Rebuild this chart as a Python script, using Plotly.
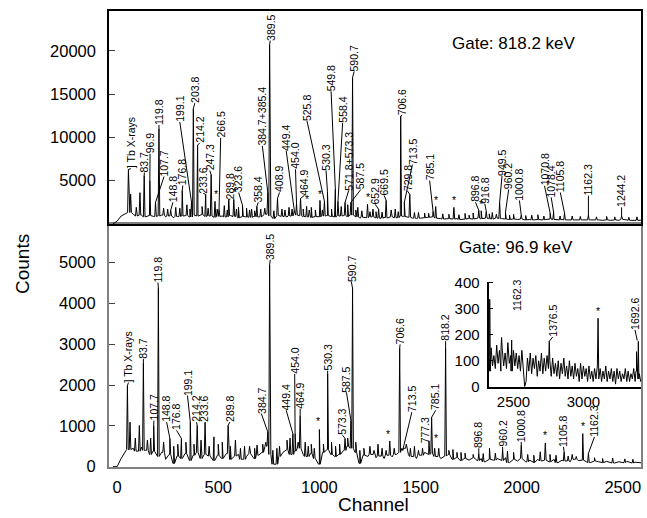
import plotly.graph_objects as go

# ---------------- data ----------------
STEP = 20
BG_START = -20

# top panel (gate 818.2 keV): background counts every 20 channels from ch -20
top_bg = [0, 300, 900, 1200, 1300, 1100, 900, 1000, 800, 950, 850,
          900, 1000, 800, 900, 700, 850, 900, 950, 800, 1000,
          900, 1050, 850, 900, 750, 850, 900, 800, 950, 850,
          700, 850, 800, 750, 850, 800, 900, 1100, 900, 600,
          950, 850, 800, 900, 1000, 950, 850, 800, 750, 850,
          800, 900, 950, 850, 800, 900, 950, 850, 1000, 800,
          650, 750, 700, 800, 700, 650, 750, 700, 800, 700,
          900, 850, 750, 650, 600, 650, 700, 750, 800, 650,
          600, 550, 600, 550, 600, 500, 550, 600, 550, 650,
          600, 650, 600, 550, 650, 600, 550, 500, 550, 500,
          550, 450, 500, 450, 500, 450, 500, 550, 500, 450,
          500, 450, 500, 450, 400, 450, 500, 450, 400, 450,
          400, 450, 400, 450, 400, 500, 450, 400, 450, 400,
          450]
top_peak_ch = [56, 67, 113, 134, 162, 190, 207, 230, 265, 290, 322, 345, 368, 377, 398, 420,
               438, 465, 484, 504, 530, 552, 577, 600, 620, 640, 665, 691, 710, 730, 745, 754,
               793, 815, 850, 876, 887, 907, 937, 960, 980, 1003, 1025, 1040, 1079, 1092, 1108,
               1127, 1140, 1156, 1164, 1190, 1238, 1265, 1293, 1330, 1355, 1375, 1402, 1420, 1447,
               1490, 1520, 1562, 1575, 1610, 1665, 1720, 1760, 1788, 1800, 1825, 1855, 1891, 1920,
               1960, 1998, 2050, 2080, 2141, 2158, 2212, 2250, 2330, 2420, 2494, 2570]
top_peak_h = [6260, 3430, 3600, 5570, 5000, 2480, 11000, 1800, 1560, 1900, 3850, 2200, 2480, 13300, 9100, 2000,
              3400, 5690, 2600, 1680, 2100, 2820, 2820, 1900, 2130, 1800, 1700, 2020, 1700, 1800, 3630, 20700,
              2940, 1700, 1900, 1560, 2360, 2940, 2020, 1900, 1600, 2700, 2600, 3700, 4000, 2600, 2000,
              2480, 2200, 2480, 16900, 1900, 2250, 1700, 1680, 2710, 1600, 1700, 12450, 2480, 3400,
              1300, 1250, 1450, 2000, 1150, 1900, 1200, 1250, 1560, 1500, 1450, 1300, 2480, 1330,
              1100, 1000, 1000, 1050, 1220, 1330, 1220, 900, 1000, 850, 900, 800]
# small unlabelled spikes in the top spectrum
top_small_ch = [95, 250, 310, 360, 450, 495, 545, 590, 655, 680, 775, 830, 865, 920, 950, 1015,
                1060, 1180, 1210, 1250, 1280, 1310, 1390, 1470, 1540, 1640, 1690, 1740, 1840,
                1875, 1940, 2020, 2110, 2190, 2290, 2370, 2460, 2530]
top_small_h = [1900, 1700, 1800, 1700, 1800, 1700, 1600, 1700, 1600, 1500, 1500, 1600, 1700, 1700,
               1600, 1600, 1700, 1600, 1500, 1400, 1400, 1350, 1400, 1300, 1200, 1100, 1050, 1000,
               1150, 1100, 1000, 950, 900, 900, 850, 800, 800, 750]
# labels: (text, label channel, label bottom counts, peak channel, peak counts)
top_labels = [
    ("] Tb X-rays", 69, 6380, 56, 6260), ("83.7", 135, 5920, 134, 5570),
    ("96.9", 163, 8100, 162, 5000), ("107.7", 232, 5460, 190, 2480),
    ("119.8", 207, 11420, 207, 11000), ("148.8", 276, 2480, 265, 1560),
    ("176.8", 325, 4430, 322, 3850), ("199.1", 310, 11770, 368, 2480),
    ("203.8", 384, 13950, 377, 13300), ("214.2", 409, 9360, 398, 9100),
    ("233.6", 426, 3510, 438, 3400), ("247.3", 458, 6150, 465, 5690),
    ("*", 488, 2750, None, None), ("266.5", 512, 9930, 504, 1680),
    ("289.8", 560, 2860, 552, 2820), ("*", 585, 2950, None, None),
    ("323.6", 601, 3620, 620, 2130), ("358.4", 698, 2480, 691, 2020),
    ("384.7+385.4", 718, 9020, 745, 3630), ("389.5", 757, 21170, 754, 20700),
    ("408.9", 803, 3620, 793, 2940), ("449.4", 836, 8440, 876, 1560),
    ("454.0", 882, 6300, 887, 2360), ("464.9", 926, 3280, 907, 2940),
    ("*", 941, 2150, None, None), ("525.8", 939, 11880, 1025, 2600),
    ("*", 1003, 2800, None, None), ("530.3", 1033, 6150, 1040, 3700),
    ("549.8", 1058, 15320, 1079, 4000), ("558.4", 1115, 11650, 1092, 2600),
    ("571.8+573.3", 1145, 3850, 1127, 2480), ("590.7", 1172, 17620, 1164, 16900),
    ("587.5", 1205, 3970, 1156, 2480), ("*", 1238, 2350, None, None),
    ("652.9", 1276, 2250, 1293, 1680), ("669.5", 1320, 3280, 1330, 2710),
    ("706.6", 1410, 12570, 1402, 12450), ("713.5", 1460, 6840, 1420, 2480),
    ("729.8", 1435, 3820, 1447, 3400), ("785.1", 1545, 5000, 1562, 1450),
    ("*", 1578, 2050, None, None), ("*", 1665, 2000, None, None),
    ("896.8", 1772, 2480, 1788, 1560), ("*", 1800, 1550, None, None),
    ("916.8", 1818, 2300, 1825, 1450), ("949.5", 1903, 5540, 1891, 2480),
    ("960.2", 1936, 3970, 1920, 1330), ("1000.8", 1989, 2700, 1998, 1000),
    ("1070.8", 2113, 4390, 2141, 1220), ("1078.4", 2146, 3050, 2158, 1330),
    ("1105.8", 2191, 3620, 2212, 1220), ("1162.3", 2330, 3250, 2330, 1000),
    ("1244.2", 2494, 1900, 2494, 900),
]

# bottom panel (gate 96.9 keV)
bot_bg = [0, 0, 200, 380, 420, 450, 380, 480, 400, 300, 380,
          250, 350, 180, 300, 80, 260, 200, 320, 150, 280,
          350, 200, 300, 260, 150, 280, 200, 320, 180, 260,
          300, 180, 250, 320, 200, 280, 350, 500, 300, 60,
          250, 350, 420, 300, 380, 450, 300, 250, 320, 200,
          60, 350, 420, 300, 250, 300, 400, 500, 450, 350,
          80, 280, 250, 300, 220, 260, 200, 280, 240, 300,
          350, 450, 300, 250, 200, 280, 350, 300, 320, 250,
          200, 260, 300, 180, 220, 150, 200, 160, 220, 150,
          200, 120, 180, 160, 200, 150, 220, 100, 180, 140,
          200, 120, 160, 100, 180, 140, 160, 120, 180, 100,
          160, 140, 120, 180, 150, 160, 120, 100, 140, 120,
          100, 130, 110, 90, 120, 100, 130, 90, 110, 100,
          90]
bot_peak_ch = [51, 64, 110, 130, 166, 181, 204, 261, 318, 362, 396, 435, 479, 549, 585, 655, 692,
               745, 754, 803, 869, 880, 905, 930, 960, 1000, 1041, 1127, 1156, 1164, 1180, 1250,
               1290, 1348, 1397, 1412, 1470, 1542, 1555, 1570, 1624, 1660, 1700, 1788, 1841, 1906,
               1930, 1998, 2092, 2117, 2210, 2250, 2302, 2330]
bot_peak_h = [1980, 1090, 1010, 2550, 700, 1010, 4370, 690, 690, 1090, 1010, 1090, 730, 1010, 650, 500, 530,
              850, 4940, 500, 810, 810, 1250, 600, 550, 910, 2270, 690, 1130, 4370, 600, 500,
              550, 630, 2900, 400, 500, 630, 1210, 450, 2900, 420, 350, 325, 450, 405,
              380, 525, 365, 580, 365, 300, 810, 325]
bot_small_ch = [90, 150, 230, 280, 300, 340, 380, 415, 455, 500, 520, 560, 610, 630, 680, 720, 735,
                770, 790, 840, 855, 895, 945, 975, 1020, 1060, 1080, 1100, 1140, 1200, 1220, 1270,
                1310, 1330, 1370, 1430, 1450, 1490, 1510, 1590, 1640, 1680, 1720, 1760, 1810, 1870,
                1960, 2030, 2060, 2140, 2170, 2230, 2270, 2360, 2400, 2450, 2510, 2550]
bot_small_h = [700, 650, 600, 500, 550, 600, 550, 650, 500, 550, 600, 500, 450, 500, 450, 550, 600,
               400, 450, 650, 700, 600, 500, 450, 550, 600, 500, 550, 700, 400, 450, 400,
               450, 400, 450, 550, 450, 400, 450, 450, 400, 350, 330, 300, 320, 330,
               350, 300, 280, 300, 280, 260, 250, 220, 200, 210, 190, 180]
bot_labels = [
    ("] Tb X-rays", 56, 2060, 51, 1980), ("83.7", 130, 2640, 130, 2550),
    ("107.7", 182, 1130, 181, 1010), ("119.8", 202, 4510, 204, 4370),
    ("148.8", 245, 1090, 261, 690), ("176.8", 294, 890, 318, 690),
    ("199.1", 348, 1740, 362, 1090), ("214.2", 393, 1090, 396, 1010),
    ("233.6", 429, 1090, 435, 1090), ("289.8", 557, 1090, 549, 1010),
    ("384.7", 713, 1300, 745, 850), ("389.5", 757, 5065, 754, 4940),
    ("449.4", 836, 1380, 869, 810), ("454.0", 878, 2270, 880, 810),
    ("464.9", 905, 1420, 905, 1250), ("*", 995, 960, None, None),
    ("530.3", 1041, 2350, 1041, 2270), ("573.3", 1115, 770, 1127, 690),
    ("587.5", 1134, 1820, 1156, 1130), ("590.7", 1158, 4530, 1164, 4370),
    ("*", 1341, 660, None, None), ("706.6", 1399, 2995, 1397, 2900),
    ("713.5", 1457, 1335, 1412, 400), ("777.3", 1522, 570, None, None),
    ("785.1", 1575, 1380, 1555, 1210), ("*", 1575, 560, None, None),
    ("818.2", 1624, 3075, 1624, 2900), ("896.8", 1788, 450, 1788, 325),
    ("960.2", 1906, 485, 1906, 405), ("1000.8", 1998, 605, 1998, 525),
    ("*", 2113, 620, None, None), ("1105.8", 2207, 485, 2210, 365),
    ("*", 2302, 840, None, None), ("1162.3", 2360, 730, 2330, 325),
]

# inset (bottom panel, high channels): background every 10 channels from ch 2320
INSET_STEP = 10
INSET_START = 2320
inset_bg = [130, 60, 150, 80, 120, 70, 160, 90, 140, 60,
            150, 80, 130, 70, 170, 90, 120, 60, 140, 80,
            130, 70, 120, 60, 140, 80, 0, 20, 110, 60,
            130, 50, 110, 70, 120, 40, 100, 60, 130, 50,
            110, 60, 120, 70, 100, 40, 110, 50, 90, 40,
            100, 30, 90, 50, 110, 40, 80, 30, 100, 40,
            80, 30, 90, 40, 70, 20, 90, 30, 80, 40,
            70, 20, 80, 30, 60, 20, 70, 30, 80, 30,
            70, 20, 60, 30, 80, 20, 60, 30, 70, 20,
            60, 10, 70, 30, 60, 20, 50, 30, 70, 20,
            60, 20, 50, 30, 70, 20, 60, 30, 50, 20, 40]
inset_peak_ch = [2330, 2415, 2487, 2756, 3105, 3380, 3393]
inset_peak_h = [337, 190, 180, 175, 264, 135, 175]
inset_labels = [
    ("1162.3", 2524, 293, 2335, 337), ("1376.5", 2781, 192, 2756, 175),
    ("*", 3105, 268, None, None), ("1692.6", 3369, 219, 3385, 178),
]
inset_leader_from = [(2455, 362), None, None, None]

x_ticks = [0, 500, 1000, 1500, 2000, 2500]
top_y_ticks = [5000, 10000, 15000, 20000]
bot_y_ticks = [0, 1000, 2000, 3000, 4000, 5000]
inset_x_ticks = [2500, 3000]
inset_y_ticks = [0, 100, 200, 300, 400]

# ---------------- helpers ----------------
FONT = "Liberation Sans, Arial, Helvetica, sans-serif"


def spectrum(start, step, bg, pk_ch, pk_h, hw=4):
    pts = [(start + i * step, v) for i, v in enumerate(bg)]
    for c, h in zip(pk_ch, pk_h):
        i = min(max(int(round((c - start) / step)), 0), len(bg) - 1)
        base = bg[i]
        pts += [(c - hw, base), (c, h), (c + hw, base)]
    pts.sort(key=lambda p: p[0])
    return [p[0] for p in pts], [p[1] for p in pts]


def leaders(labels, starts=None):
    xs, ys = [], []
    for k, (t, lx, ly, tx, ty) in enumerate(labels):
        if tx is None or ly <= ty:
            continue
        sx, sy = (lx, ly)
        if starts is not None and starts[k] is not None:
            sx, sy = starts[k]
        xs += [sx, tx, None]
        ys += [sy, ty, None]
    return xs, ys


def label_annots(labels, xref, yref):
    out = []
    for t, lx, ly, tx, ty in labels:
        star = (t == "*")
        out.append(dict(x=lx, y=ly, xref=xref, yref=yref, text=t,
                        textangle=0 if star else -90,
                        xanchor="center", yanchor="bottom", showarrow=False,
                        borderpad=0, borderwidth=0,
                        font=dict(size=10.5, family=FONT, color="black")))
    return out


fig = go.Figure()

tx_, ty_ = spectrum(BG_START, STEP, top_bg, top_peak_ch + top_small_ch, top_peak_h + top_small_h)
fig.add_trace(go.Scatter(x=tx_, y=ty_, mode="lines", line=dict(color="black", width=1),
                         xaxis="x2", yaxis="y2", hoverinfo="skip"))
lx_, ly_ = leaders(top_labels)
fig.add_trace(go.Scatter(x=lx_, y=ly_, mode="lines", line=dict(color="black", width=1),
                         xaxis="x2", yaxis="y2", hoverinfo="skip"))

bx_, by_ = spectrum(BG_START, STEP, bot_bg, bot_peak_ch + bot_small_ch, bot_peak_h + bot_small_h)
fig.add_trace(go.Scatter(x=bx_, y=by_, mode="lines", line=dict(color="black", width=1),
                         xaxis="x", yaxis="y", hoverinfo="skip"))
lx_, ly_ = leaders(bot_labels)
fig.add_trace(go.Scatter(x=lx_, y=ly_, mode="lines", line=dict(color="black", width=1),
                         xaxis="x", yaxis="y", hoverinfo="skip"))

ix_, iy_ = spectrum(INSET_START, INSET_STEP, inset_bg, inset_peak_ch, inset_peak_h, hw=4)
fig.add_trace(go.Scatter(x=ix_, y=iy_, mode="lines", line=dict(color="black", width=1),
                         xaxis="x3", yaxis="y3", hoverinfo="skip"))
lx_, ly_ = leaders(inset_labels, inset_leader_from)
fig.add_trace(go.Scatter(x=lx_, y=ly_, mode="lines", line=dict(color="black", width=1),
                         xaxis="x3", yaxis="y3", hoverinfo="skip"))

annots = []
annots += label_annots(top_labels, "x2", "y2")
annots += label_annots(bot_labels, "x", "y")
annots += label_annots(inset_labels, "x3", "y3")
annots.append(dict(x=1963, y=20830, xref="x2", yref="y2", text="Gate: 818.2 keV", showarrow=False,
                   xanchor="center", yanchor="middle", font=dict(size=17, family=FONT, color="black")))
annots.append(dict(x=1970, y=5370, xref="x", yref="y", text="Gate: 96.9 keV", showarrow=False,
                   xanchor="center", yanchor="middle", font=dict(size=17, family=FONT, color="black")))
annots.append(dict(x=-0.163, y=0.4457, xref="paper", yref="paper", text="Counts", showarrow=False,
                   textangle=-90, xanchor="center", yanchor="middle",
                   font=dict(size=19, family=FONT, color="black")))
annots.append(dict(x=0.498, y=-0.083, xref="paper", yref="paper", text="Channel", showarrow=False,
                   xanchor="center", yanchor="middle", font=dict(size=19, family=FONT, color="black")))

TICKFONT = dict(size=16.5, family=FONT, color="black")
SPLIT = 0.5326
GRAY = "#808080"

fig.update_layout(
    width=647, height=518, margin=dict(l=109, r=4, t=7, b=51),
    plot_bgcolor="white", paper_bgcolor="white", showlegend=False,
    annotations=annots,
    xaxis=dict(domain=[0, 1], range=[-40, 2590], anchor="y", tickvals=x_ticks, ticks="",
               showline=True, mirror=True, linecolor=GRAY, linewidth=2, showgrid=False,
               zeroline=False, tickfont=TICKFONT, ticklabelstandoff=4, tickformat="d"),
    yaxis=dict(domain=[0, SPLIT], range=[-8, 5940], anchor="x", tickvals=bot_y_ticks,
               ticks="inside", ticklen=6, tickcolor="#444", showline=True, mirror=True,
               linecolor=GRAY, linewidth=2, showgrid=False, zeroline=False,
               tickfont=TICKFONT, ticklabelstandoff=8, tickformat="d"),
    xaxis2=dict(domain=[0, 1], range=[-40, 2590], anchor="y2", showticklabels=False, ticks="",
                showline=True, mirror=True, linecolor="black", linewidth=1.5, showgrid=False,
                zeroline=False),
    yaxis2=dict(domain=[SPLIT, 1], range=[-40, 24600], anchor="x2", tickvals=top_y_ticks,
                ticks="inside", ticklen=6, tickcolor="#444", showline=True, mirror=True,
                linecolor="black", linewidth=1.5, showgrid=False, zeroline=False,
                tickfont=TICKFONT, ticklabelstandoff=8, tickformat="d"),
    xaxis3=dict(domain=[0.7135, 1], range=[2322, 3412], anchor="y3", tickvals=inset_x_ticks,
                ticks="", showline=True, mirror=False, linecolor="black", linewidth=2,
                showgrid=False, zeroline=False, tickfont=dict(size=15, family=FONT, color="black"),
                ticklabelstandoff=0, tickformat="d"),
    yaxis3=dict(domain=[0.1761, 0.4065], range=[0, 405], anchor="x3", tickvals=inset_y_ticks,
                ticks="inside", ticklen=4, tickcolor="black", showline=True, mirror=False,
                linecolor="black", linewidth=2, showgrid=False, zeroline=False,
                tickfont=dict(size=15, family=FONT, color="black"), ticklabelstandoff=4,
                tickformat="d"),
)

fig.write_html("out.html", config={"displayModeBar": False},
               post_script="document.body.style.margin='0';document.body.style.padding='0';")
